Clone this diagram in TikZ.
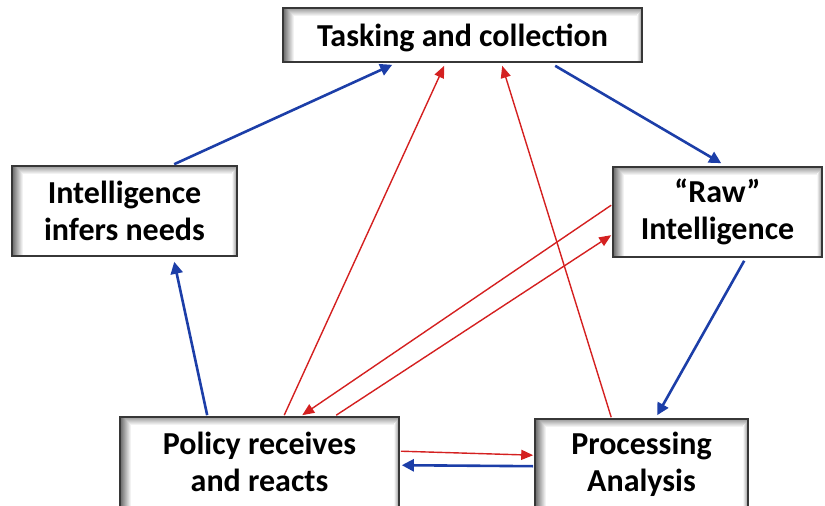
\documentclass[tikz,border=0pt]{standalone}
\usepackage{fontspec}
\setmainfont{Carlito}
\usetikzlibrary{arrows.meta,calc}
\definecolor{bluearr}{RGB}{28,62,168}
\definecolor{redarr}{RGB}{212,32,32}
\definecolor{boxline}{RGB}{55,55,55}
\tikzset{
  cbox/.style={draw=boxline, line width=1.6pt, fill=white, rectangle, align=center,
    font=\fontsize{32}{37}\selectfont\bfseries, inner sep=0pt,
    path picture={
      \foreach \i [evaluate=\i as \c using {int(60-5.5*\i)}] in {0,...,10}
        \draw[black!\c, line width=1.1pt]
          ([xshift={\i pt+0.5pt}]path picture bounding box.north west) --
          ([xshift={\i pt+0.5pt}]path picture bounding box.south west);
      \foreach \i [evaluate=\i as \c using {int(40-5*\i)}] in {0,...,7}
        \draw[black!\c, line width=1.1pt]
          ([xshift={\i pt+4pt},yshift={-\i pt-0.5pt}]path picture bounding box.north west) --
          ([yshift={-\i pt-0.5pt}]path picture bounding box.north east);
      \foreach \i [evaluate=\i as \c using {int(35-8*\i)}] in {0,...,4}
        \draw[black!\c, line width=1.1pt]
          ([xshift={-\i pt-0.5pt},yshift={-\i pt-2pt}]path picture bounding box.north east) --
          ([xshift={-\i pt-0.5pt}]path picture bounding box.south east);
    }},
  bluearrow/.style={draw=bluearr, line width=2.6pt, -{Triangle[length=12pt,width=12pt]}},
  redarrow/.style={draw=redarr, line width=1.4pt, -{Triangle[length=12pt,width=10pt]}}
}
\begin{document}
\begin{tikzpicture}[x=1pt,y=-1pt]
\useasboundingbox (0,0) rectangle (825,506);
\clip (0,0) rectangle (825,506);
\node[cbox, minimum width=359pt, minimum height=54pt, text depth=0pt] (tc) at (462.5,35) {Tasking and collection};
\node[cbox, minimum width=225pt, minimum height=90pt] (iin) at (124.5,211) {Intelligence\\infers needs};
\node[cbox, minimum width=209pt, minimum height=90pt] (raw) at (717.5,212) {“Raw”\\Intelligence};
\node[cbox, minimum width=279pt, minimum height=90pt] (pol) at (259.5,462) {Policy receives\\and reacts};
\node[cbox, minimum width=213pt, minimum height=90pt] (proc) at (641.5,464) {Processing\\Analysis};
% blue arrows
\draw[bluearrow] ($(iin.north west)+(163,-1)$) -- ($(tc.south west)+(110,2)$);
\draw[bluearrow] ($(tc.south west)+(273,3)$) -- ($(raw.north west)+(109,-3)$);
\draw[bluearrow] ($(raw.south west)+(132,3)$) -- ($(proc.north west)+(123,-3)$);
\draw[bluearrow] ($(proc.north west)+(-1,48)$) -- ($(pol.north east)+(2,49)$);
\draw[bluearrow] ($(pol.north west)+(88,-1)$) -- ($(iin.south west)+(163,5)$);
% red arrows
\draw[redarrow] ($(pol.north west)+(165,-1)$) -- ($(tc.south west)+(162,3)$);
\draw[redarrow] ($(proc.north west)+(77,-1)$) -- ($(tc.south west)+(220,3)$);
\draw[redarrow] ($(raw.north west)+(-1,39)$) -- ($(pol.north west)+(183,-1)$);
\draw[redarrow] ($(pol.north west)+(217,-1)$) -- ($(raw.north west)+(-1,69)$);
\draw[redarrow] ($(pol.north east)+(1,35)$) -- ($(proc.north west)+(-1,37)$);
\end{tikzpicture}
\end{document}
